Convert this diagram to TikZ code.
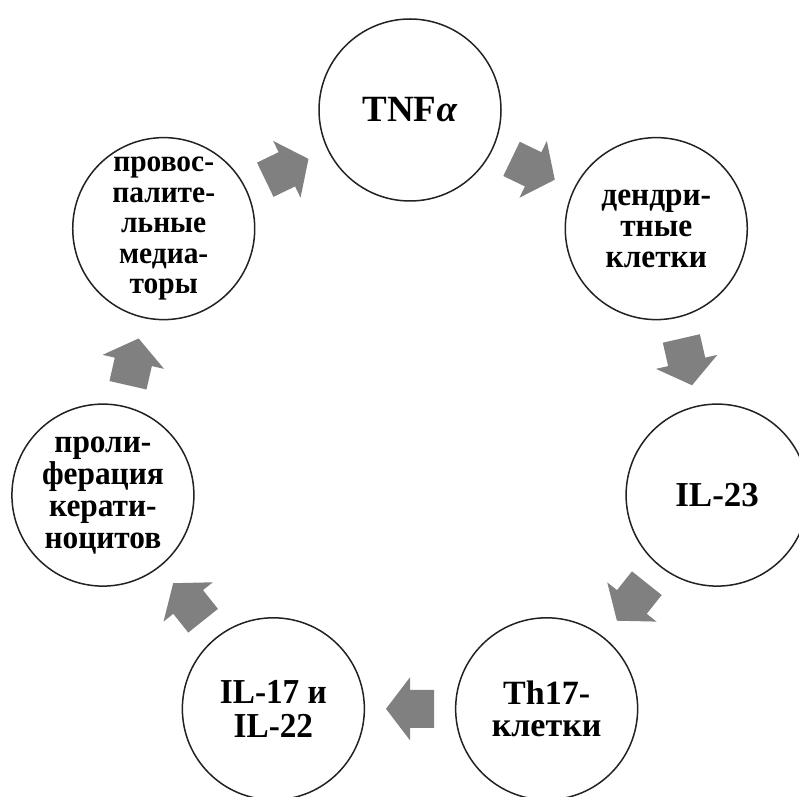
\documentclass[tikz,border=0pt]{standalone}
\usepackage{fontspec}
\setmainfont{Liberation Serif}
\newfontfamily\fstA[FakeStretch=0.95]{Liberation Serif}
\usetikzlibrary{calc}
\definecolor{arrowgray}{RGB}{128,128,128}
\definecolor{ringline}{RGB}{34,34,34}
\newcommand\cyclearrow[2]{%
  \coordinate (m#1#2) at ($(#1)!0.5!(#2)$);
  \fill[arrowfill]
    ($(m#1#2)!-24pt!(#2)!19pt!90:(#2)$) --
    ($(m#1#2)!19pt!90:(#2)$) --
    ($(m#1#2)!31.5pt!90:(#2)$) --
    ($(m#1#2)!24pt!(#2)$) --
    ($(m#1#2)!31.5pt!-90:(#2)$) --
    ($(m#1#2)!19pt!-90:(#2)$) --
    ($(m#1#2)!-24pt!(#2)!19pt!-90:(#2)$) -- cycle;}
\begin{document}
\begin{tikzpicture}[x=1pt,y=1pt,
  cyc/.style={circle, draw=ringline, line width=1.5pt, fill=white,
    minimum size=182pt, inner sep=0pt, align=center},
  arrowfill/.style={fill=arrowgray, draw=none}]
\useasboundingbox (0,0) rectangle (799,796);
\clip (0,0) rectangle (799,796);
\coordinate (c) at (410,371);
\node[cyc, font=\bfseries\fontsize{37}{34}\selectfont] (tnf) at ($(c)+(90:315pt)$) {TNF\textit{α}};
\node[cyc, font=\fstA\bfseries\fontsize{33}{31}\selectfont] (den) at ($(c)+(38.57:315pt)$) {дендри-\\тные\\клетки};
\node[cyc, font=\bfseries\fontsize{35}{34}\selectfont] (il23) at ($(c)+(-12.86:315pt)$) {IL-23};
\node[cyc, font=\bfseries\fontsize{34}{32}\selectfont] (th) at ($(c)+(-64.29:315pt)$) {Th17-\\клетки};
\node[cyc, font=\fstA\bfseries\fontsize{35}{34}\selectfont] (il17) at ($(c)+(-115.71:315pt)$) {IL-17 и\\IL-22};
\node[cyc, font=\fstA\bfseries\fontsize{33}{32}\selectfont] (pro) at ($(c)+(-167.14:315pt)$) {проли-\\ферация\\керати-\\ноцитов};
\node[cyc, font=\fstA\bfseries\fontsize{31}{30.5}\selectfont] (med) at ($(c)+(141.43:315pt)$) {провос-\\палите-\\льные\\медиа-\\торы};
\cyclearrow{tnf}{den}
\cyclearrow{den}{il23}
\cyclearrow{il23}{th}
\cyclearrow{th}{il17}
\cyclearrow{il17}{pro}
\cyclearrow{pro}{med}
\cyclearrow{med}{tnf}
\end{tikzpicture}
\end{document}
